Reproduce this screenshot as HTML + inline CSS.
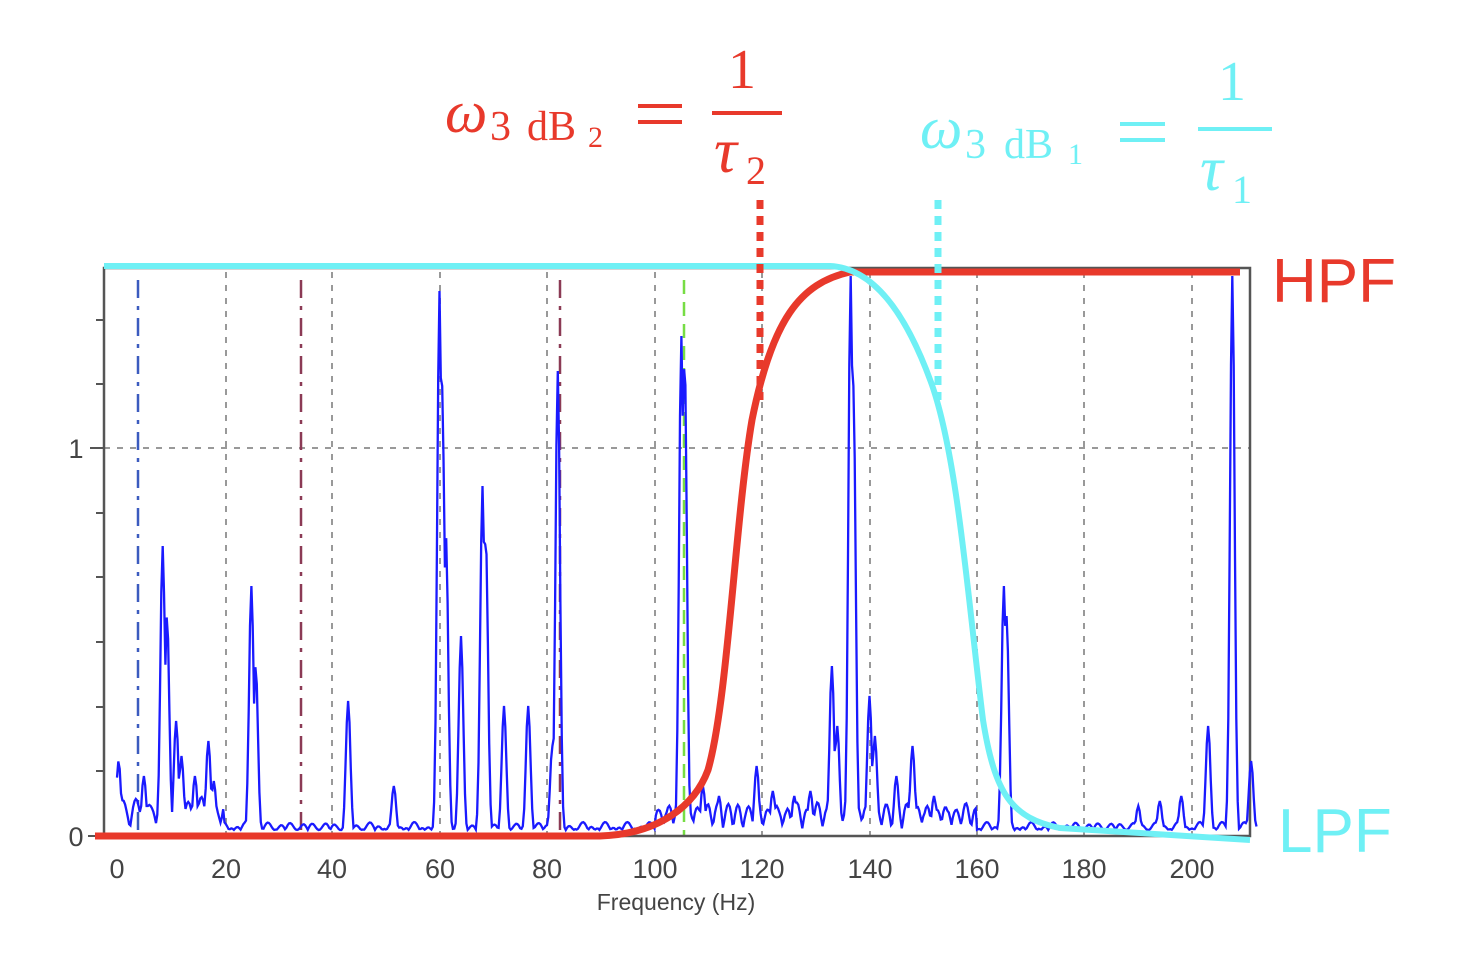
<!DOCTYPE html>
<html><head><meta charset="utf-8"><style>
html,body{margin:0;padding:0;background:#fff;width:1472px;height:956px;overflow:hidden}
svg{display:block}
</style></head><body>
<svg id="s" width="1472" height="956" viewBox="0 0 1472 956" xmlns="http://www.w3.org/2000/svg">
<g stroke="#999" stroke-width="2" stroke-dasharray="6,7">
<line x1="226" y1="272" x2="226" y2="836"/>
<line x1="332" y1="272" x2="332" y2="836"/>
<line x1="440" y1="272" x2="440" y2="836"/>
<line x1="547" y1="272" x2="547" y2="836"/>
<line x1="655" y1="272" x2="655" y2="836"/>
<line x1="762" y1="272" x2="762" y2="836"/>
<line x1="870" y1="272" x2="870" y2="836"/>
<line x1="977" y1="272" x2="977" y2="836"/>
<line x1="1084" y1="272" x2="1084" y2="836"/>
<line x1="1192" y1="272" x2="1192" y2="836"/>
<line x1="104" y1="448" x2="1250" y2="448"/>
</g>
<line x1="138" y1="280" x2="138" y2="836" stroke="#3b5bbf" stroke-width="2.5" stroke-dasharray="18,8,4,8"/>
<line x1="301" y1="280" x2="301" y2="836" stroke="#8b3a55" stroke-width="2.5" stroke-dasharray="18,8,4,8"/>
<line x1="560" y1="280" x2="560" y2="836" stroke="#8b3a55" stroke-width="2.5" stroke-dasharray="18,8,4,8"/>
<line x1="684" y1="280" x2="684" y2="836" stroke="#77dd44" stroke-width="2.5" stroke-dasharray="14,8"/>
<rect x="104" y="268" width="1146" height="568" fill="none" stroke="#555" stroke-width="2.5"/>
<g stroke="#555" stroke-width="2">
<line x1="96" y1="320" x2="104" y2="320"/><line x1="96" y1="384" x2="104" y2="384"/>
<line x1="90" y1="448" x2="104" y2="448"/><line x1="96" y1="513" x2="104" y2="513"/>
<line x1="96" y1="577" x2="104" y2="577"/><line x1="96" y1="642" x2="104" y2="642"/>
<line x1="96" y1="707" x2="104" y2="707"/><line x1="96" y1="771" x2="104" y2="771"/>
<line x1="88" y1="836" x2="104" y2="836"/>
</g>
<path id="spec" fill="none" stroke="#1a1aff" stroke-width="2.3"/>
<g font-family="Liberation Sans, sans-serif" font-size="27" fill="#444" text-anchor="middle">
<text x="117" y="878">0</text><text x="226" y="878">20</text><text x="332" y="878">40</text>
<text x="440" y="878">60</text><text x="547" y="878">80</text><text x="655" y="878">100</text>
<text x="762" y="878">120</text><text x="870" y="878">140</text><text x="977" y="878">160</text>
<text x="1084" y="878">180</text><text x="1192" y="878">200</text>
<text x="676" y="910" font-size="23">Frequency (Hz)</text>
<text x="76" y="458">1</text><text x="76" y="846">0</text>
</g>
<path d="M95,836 L600,836 C660,834 695,805 708,770 C728,700 735,520 752,420 C772,320 800,283 850,272 L1240,272" fill="none" stroke="#e8392b" stroke-width="7"/>
<path d="M104,266 L830,266 C872,268 905,310 932,385 C958,460 968,600 983,720 C995,795 1012,818 1060,828 L1250,840" fill="none" stroke="#6ff0f5" stroke-width="6"/>
<line x1="760" y1="200" x2="760" y2="400" stroke="#e8392b" stroke-width="7" stroke-dasharray="9,7"/>
<line x1="938" y1="200" x2="938" y2="400" stroke="#6ff0f5" stroke-width="7" stroke-dasharray="9,7"/>
<g font-family="Liberation Sans, sans-serif" font-size="62">
<text x="1272" y="302" fill="#e8392b">HPF</text>
<text x="1278" y="852" fill="#6ff0f5">LPF</text>
</g>
<g font-family="Liberation Serif, DejaVu Serif, serif" fill="#e8392b">
<text x="445" y="132" font-size="60" font-style="italic">ω</text>
<text x="490" y="140" font-size="42">3</text>
<text x="527" y="140" font-size="42">dB</text>
<text x="588" y="147" font-size="30">2</text>
<rect x="638" y="104" width="44" height="4"/><rect x="638" y="120" width="44" height="4"/>
<text x="728" y="88" font-size="56">1</text>
<rect x="712" y="111" width="70" height="4"/>
<text x="714" y="172" font-size="64" font-style="italic">τ</text>
<text x="746" y="184" font-size="40">2</text>
</g>
<g font-family="Liberation Serif, DejaVu Serif, serif" fill="#6ff0f5">
<text x="920" y="148" font-size="60" font-style="italic">ω</text>
<text x="965" y="158" font-size="42">3</text>
<text x="1004" y="158" font-size="42">dB</text>
<text x="1068" y="164" font-size="30">1</text>
<rect x="1120" y="122" width="45" height="4"/><rect x="1120" y="138" width="45" height="4"/>
<text x="1218" y="100" font-size="56">1</text>
<rect x="1198" y="127" width="74" height="4"/>
<text x="1200" y="190" font-size="64" font-style="italic">τ</text>
<text x="1232" y="203" font-size="40">1</text>
</g>
</svg>
<script>
(function(){
var peaks=[[0.3,75],[5,60],[8.5,290],[9.3,220],[11,115],[12,80],[14.5,60],[17,95],[18,55],[25,250],[25.8,170],[43,135],[51.5,50],[60,545],[60.5,450],[61.2,300],[64,200],[68,350],[68.6,300],[72,130],[76.5,130],[82,465],[81,90],[105,500],[105.6,480],[109,50],[112,40],[119,70],[122,45],[126,40],[129,45],[133,170],[134,110],[136.5,560],[137,450],[140,140],[141,100],[145,60],[148,90],[152,40],[165,250],[165.5,220],[190,30],[194,35],[198,40],[203,110],[207.5,560],[211,75]];
var d="";
for(var f=0;f<=212;f+=0.25){
 var h=6+4*Math.abs(Math.sin(f*2.3)+Math.sin(f*0.71));
 if(f<20) h+=25*Math.abs(Math.sin(f*1.3));
 if(f>100&&f<160) h+=20*Math.abs(Math.sin(f*1.7));
 for(var i=0;i<peaks.length;i++){var p=peaks[i];var dx=(f-p[0])/0.6;h=Math.max(h,p[1]*Math.exp(-dx*dx));}
 var x=117+f*5.375, y=836-h;
 d+=(d?"L":"M")+x.toFixed(1)+","+y.toFixed(1);
}
document.getElementById("spec").setAttribute("d",d);
})();
</script>
</body></html>
